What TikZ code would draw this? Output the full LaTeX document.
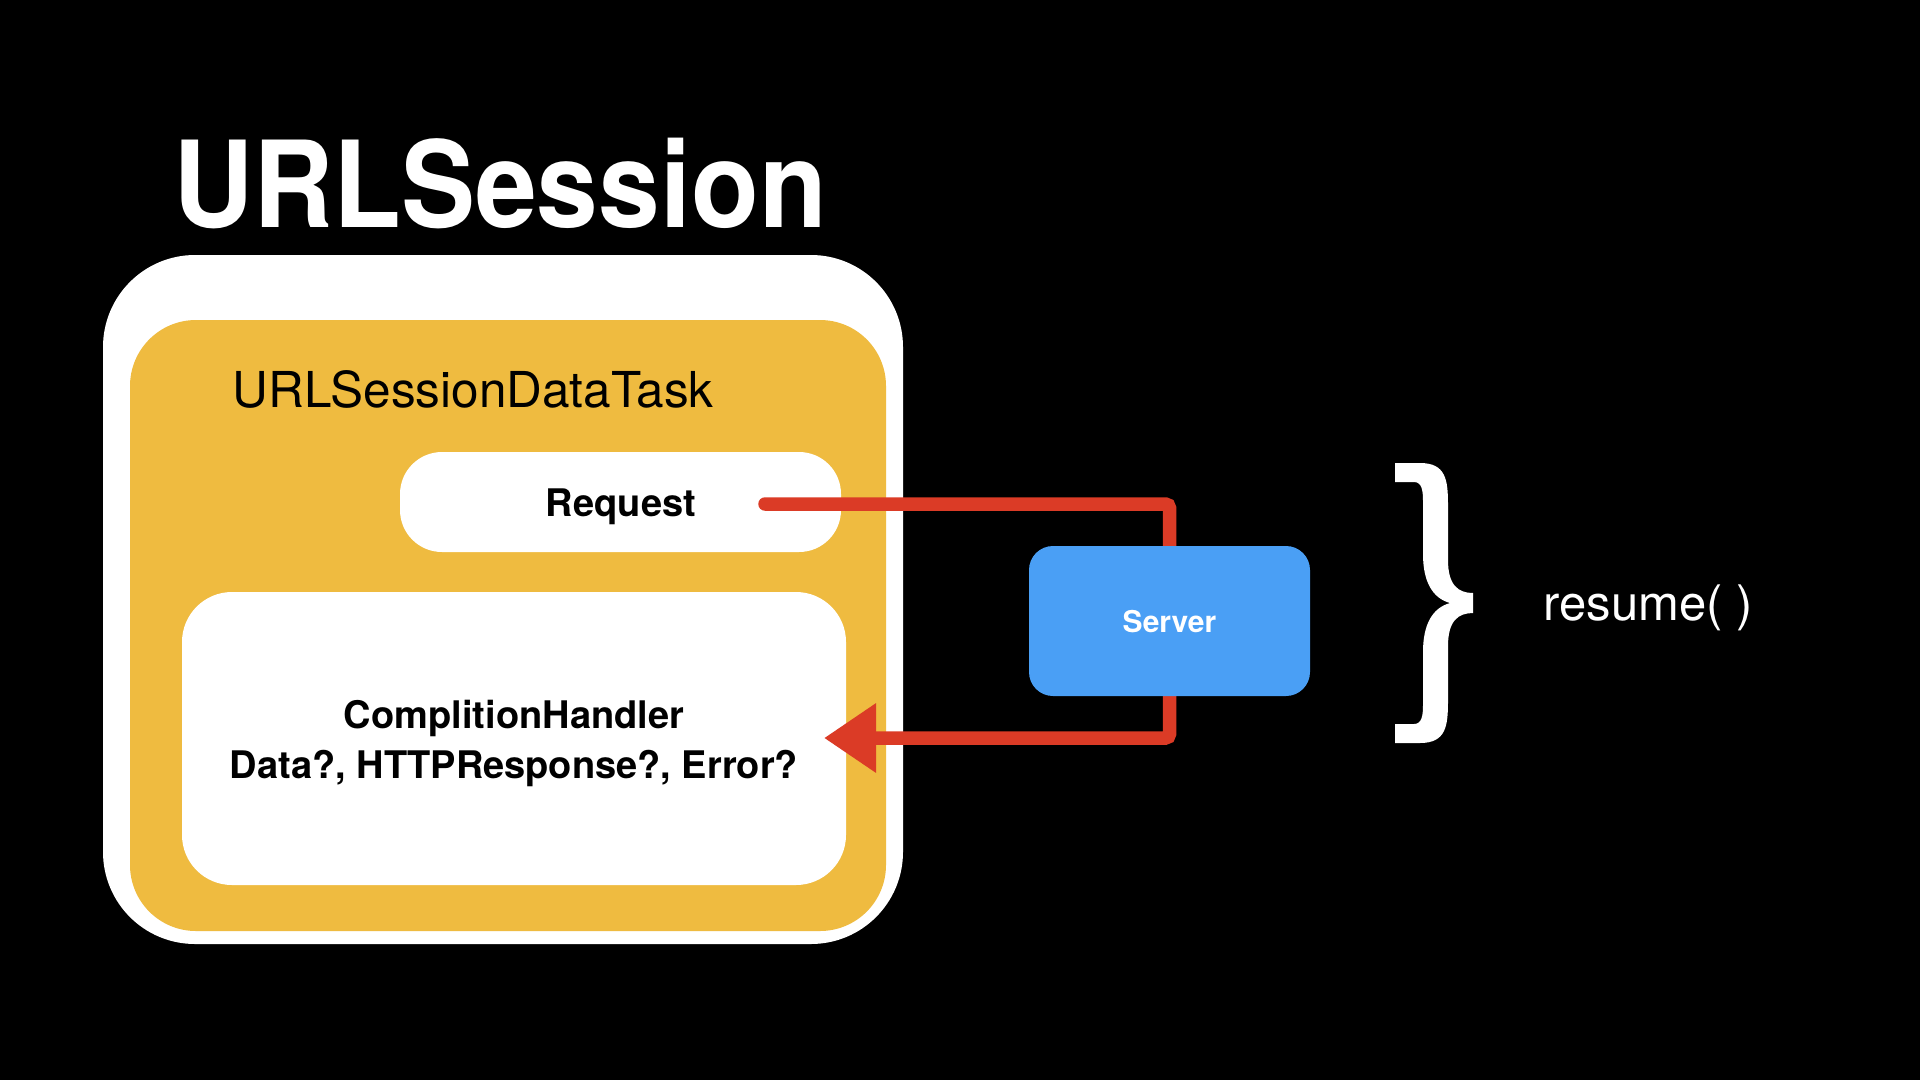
\documentclass[tikz,border=0pt]{standalone}
\usepackage{fontspec}
\setmainfont{TeX Gyre Heros}
\usetikzlibrary{arrows.meta}
\definecolor{taskyellow}{RGB}{239,187,64}
\definecolor{linered}{RGB}{219,59,38}
\definecolor{serverblue}{RGB}{74,159,245}
\pgfdeclarelayer{front}
\pgfsetlayers{main,front}
\tikzset{
  panel/.style={draw=none, inner sep=0pt, outer sep=0pt},
  redline/.style={draw=linered, line width=13.5pt},
  boldtext/.style={font=\fontsize{38}{50}\selectfont\bfseries, text=black, align=center, inner sep=0pt},
}
\begin{document}
\begin{tikzpicture}[x=1pt,y=-1pt]
\fill[black] (0,0) rectangle (1920,1080);
\useasboundingbox (0,0) rectangle (1920,1080);

% title
\node[anchor=base, inner sep=0pt, text=white, font=\fontsize{120}{130}\selectfont\bfseries] (title) at (500,227) {\scalebox{0.925}[1]{URLSession}};

% boxes
\node[panel, fill=white, rounded corners=92pt, minimum width=800pt, minimum height=689pt] (session) at (503,599.5) {};
\node[panel, fill=taskyellow, rounded corners=66pt, minimum width=756pt, minimum height=611pt] (task) at (508,625.5) {};
\node[panel, fill=white, rounded corners=42pt, minimum width=441pt, minimum height=100pt] (request) at (620.5,502) {};
\node[panel, fill=white, rounded corners=50pt, minimum width=664pt, minimum height=293pt] (handler) at (514,738.5) {};

% texts
\node[anchor=base, inner sep=0pt, text=black, font=\fontsize{49.5}{56}\selectfont] (tasklabel) at (473,407) {URLSessionDataTask};
\node[anchor=base, boldtext] (reqlabel) at (621,516) {Request};
\node[anchor=base, boldtext] (handlerlabel1) at (514,728) {ComplitionHandler};
\node[anchor=base, boldtext] (handlerlabel2) at (514,778) {Data?, HTTPResponse?, Error?};

% server (on the front layer, above the connectors)
\begin{pgfonlayer}{front}
\node[panel, fill=serverblue, rounded corners=24pt, minimum width=281pt, minimum height=150pt] (server) at (1169.5,621) {};
\node[anchor=base, inner sep=0pt, text=white, font=\fontsize{30}{36}\selectfont\bfseries] (serverlabel) at (1169.5,632) {Server};
\end{pgfonlayer}

% connectors
\coordinate (reqstart) at (765,504);
\coordinate (tip) at (824,738);
\draw[redline, line cap=round, rounded corners=4pt] (reqstart) -| (server.north);
\draw[redline, rounded corners=4pt, -{Triangle[length=52pt,width=66pt]}] (server.south) |- (tip);

% brace
\fill[white] (1395,463) -- (1420,463) .. controls (1446,463) and (1448,480) .. (1448,505)
  -- (1448,560) .. controls (1448,585) and (1458,593) .. (1473,593)
  -- (1473,613) .. controls (1458,613) and (1448,621) .. (1448,646)
  -- (1448,701) .. controls (1448,726) and (1446,743) .. (1420,743)
  -- (1395,743) -- (1395,724) -- (1414,724) .. controls (1422,724) and (1423,715) .. (1423,705)
  -- (1423,652) .. controls (1423,625) and (1432,608) .. (1450,603)
  .. controls (1432,598) and (1423,581) .. (1423,554)
  -- (1423,501) .. controls (1423,491) and (1422,482) .. (1414,482)
  -- (1395,482) -- cycle;

\node[anchor=base, inner sep=0pt, text=white, font=\fontsize{49}{56}\selectfont] (resume) at (1648,620) {resume( )};
\end{tikzpicture}
\end{document}
